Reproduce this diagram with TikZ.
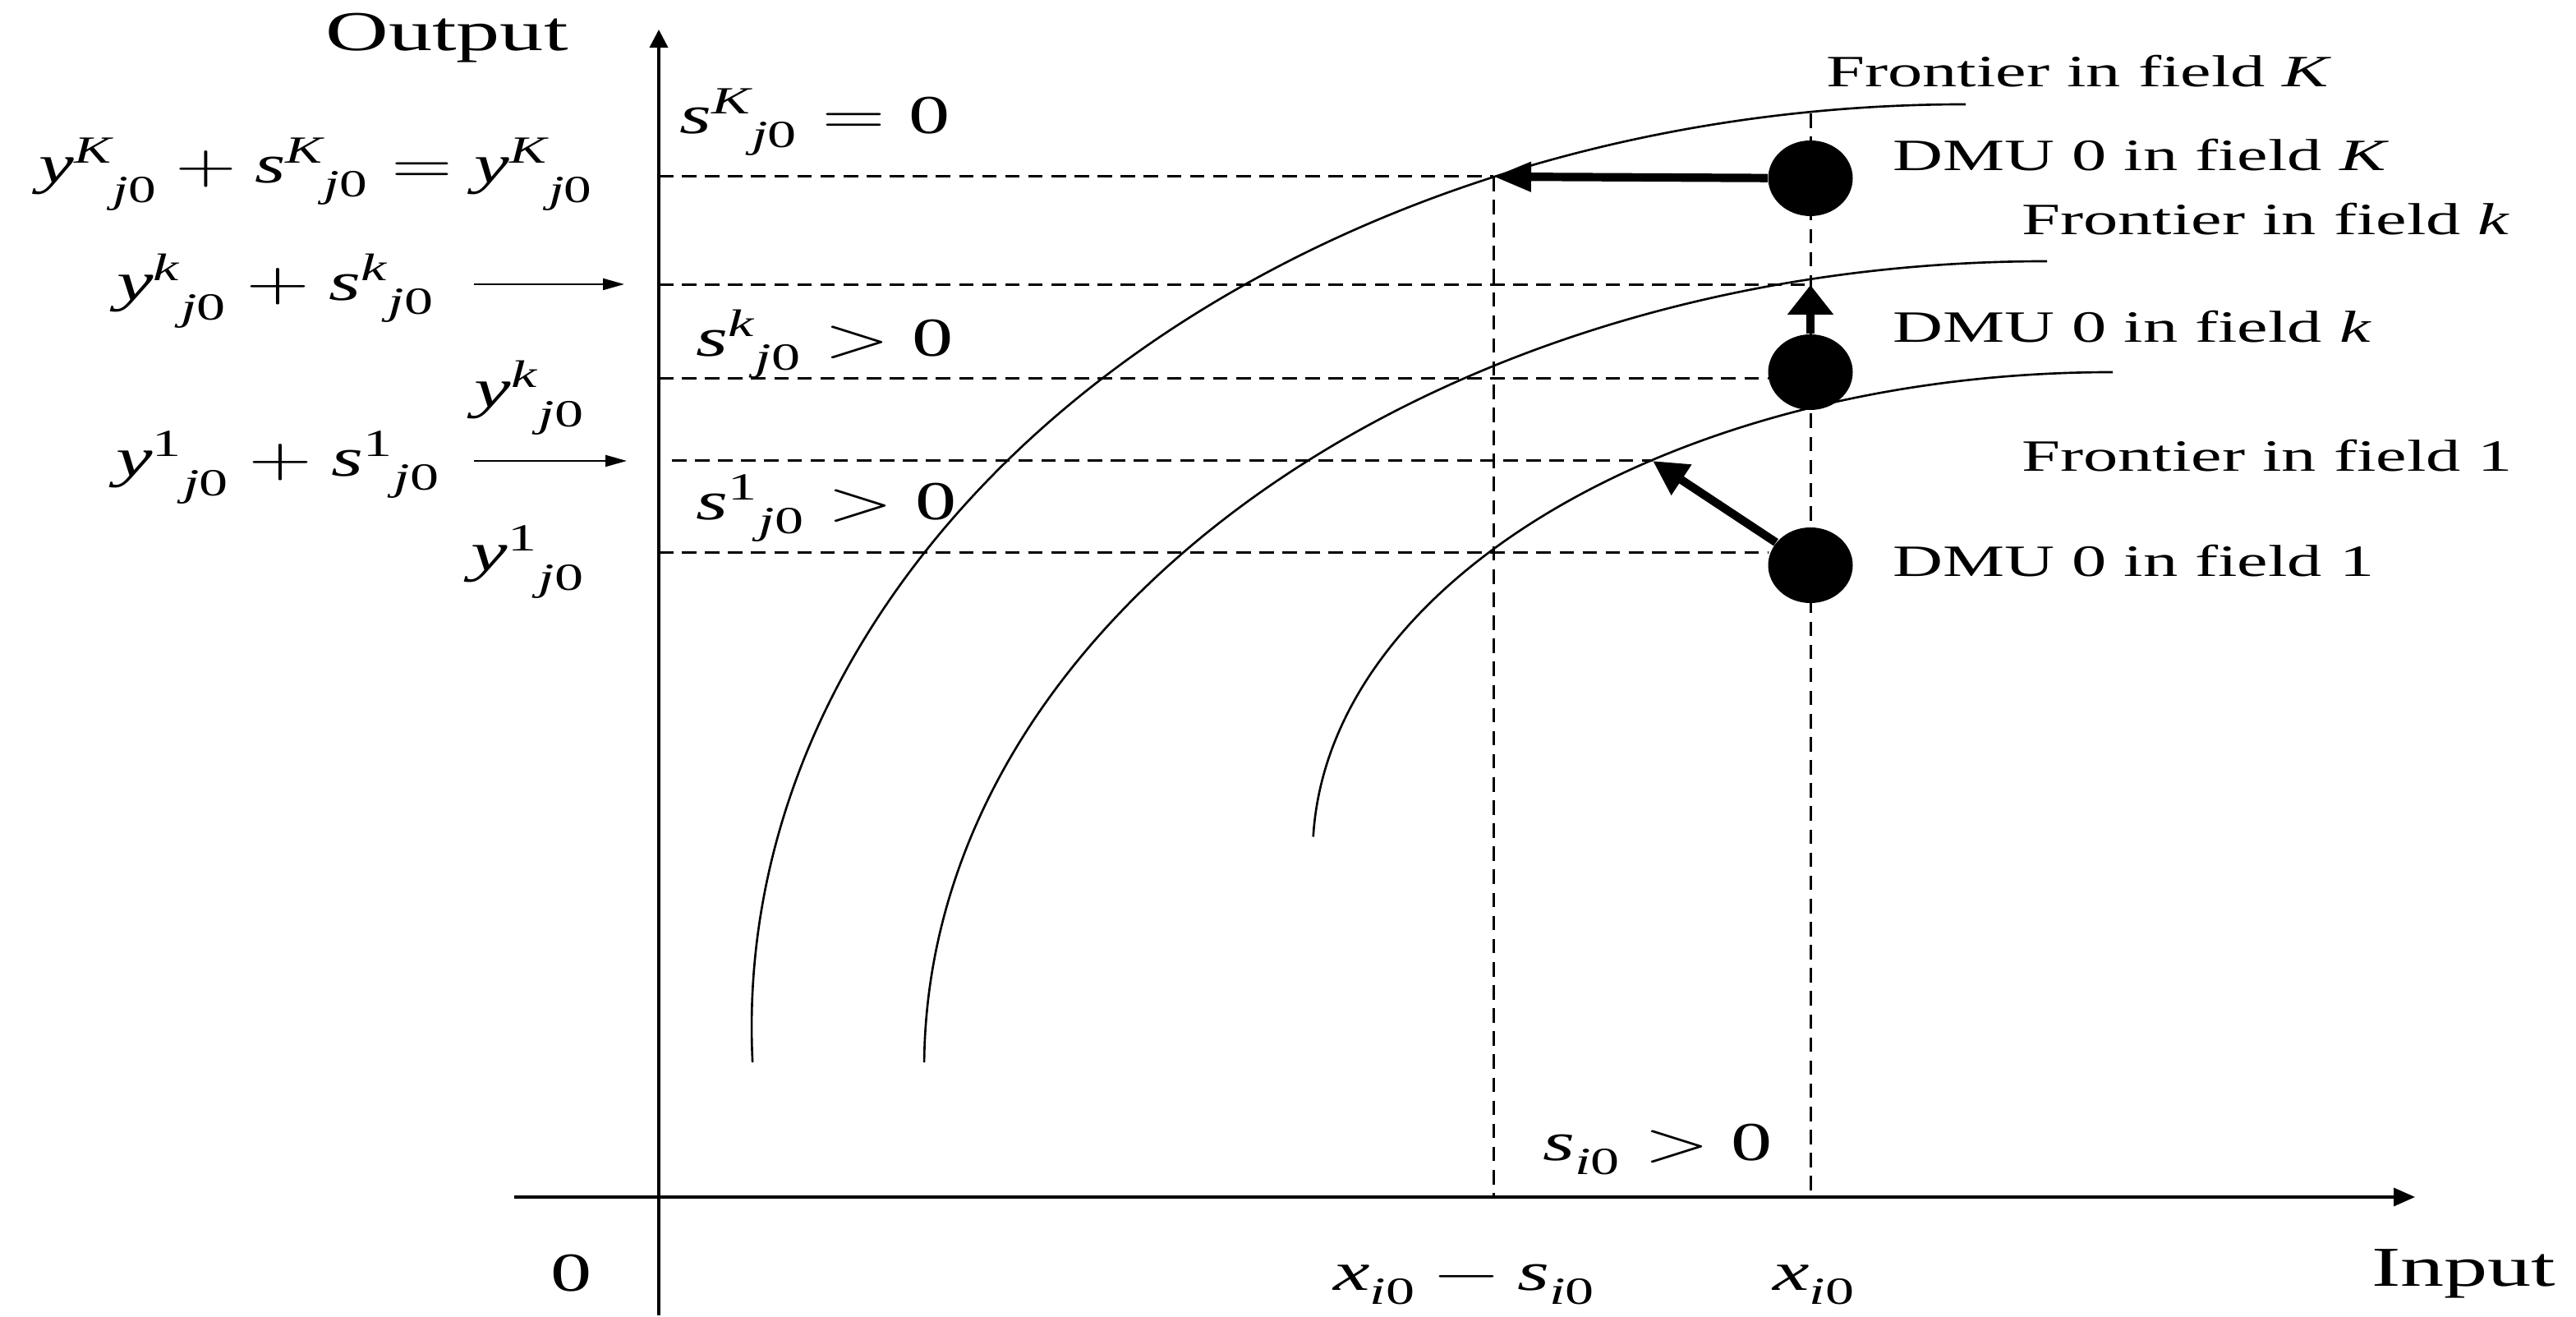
\documentclass[tikz,border=0pt]{standalone}
\usepackage{unicode-math}
\setmainfont{Liberation Serif}
\setmathfont{Latin Modern Math}
\setmathfont[range=it]{Liberation Serif Italic}
\setmathfont[range=up/num]{Liberation Serif}
\usetikzlibrary{arrows.meta,shapes.geometric}

\begin{document}
\begin{tikzpicture}[
    txt/.style={xscale=1.55, inner sep=0pt, font=\fontsize{15.5}{18}\selectfont},
    big/.style={xscale=1.55, inner sep=0pt, font=\fontsize{19.5}{22}\selectfont},
    mth/.style={xscale=1.5, inner sep=0pt, font=\fontsize{19}{22}\selectfont},
    guide/.style={dash pattern=on 5pt off 3pt, line width=0.85pt},
    frontier/.style={line width=0.75pt},
    dmu/.style={ellipse, fill=black, inner sep=0pt, minimum width=1.03cm, minimum height=0.92cm},
    shiftarrow/.style={line width=2.9pt}
  ]
  \useasboundingbox (0,0) rectangle (31.36,16.03);

  % Axes
  \coordinate (xstart) at (6.26,1.46);
  \coordinate (xend) at (29.40,1.46);
  \coordinate (ystart) at (8.02,0.02);
  \coordinate (yend) at (8.02,15.67);
  \draw[line width=1pt,-{Triangle[length=2.6mm,width=2.2mm]}] (xstart) -- (xend);
  \draw[line width=1pt,-{Triangle[length=2.2mm,width=2.2mm]}] (ystart) -- (yend);
  \node[big,anchor=base] (output) at (5.44,15.41) {Output};
  \node[big,anchor=base west] (input) at (28.86,0.37) {Input};
  \node[mth,anchor=base west] (zero) at (6.69,0.31) {0};

  % Frontier points
  \coordinate (fK) at (18.18,13.88);
  \coordinate (fk) at (22.04,12.56);
  \coordinate (f1) at (20.12,10.42);

  % Dashed guides
  \draw[guide] (8.02,13.88) -- (fK);
  \draw[guide] (8.02,12.56) -- (fk);
  \draw[guide] (8.02,11.42) -- (21.52,11.42);
  \draw[guide] (8.18,10.42) -- (f1);
  \draw[guide] (8.02,9.30) -- (21.52,9.30);
  \draw[guide] (fK) -- (18.18,1.46);
  \draw[guide] (22.04,14.65) -- (22.04,1.46);

  % Frontiers
  \draw[frontier] (23.93,3.53) ++(182.2:14.78 and 11.23)
    arc[start angle=182.2, end angle=90, x radius=14.78, y radius=11.23];
  \draw[frontier] (24.92,3.03) ++(179.6:13.67 and 9.82)
    arc[start angle=179.6, end angle=90, x radius=13.67, y radius=9.82];
  \draw[frontier] (25.72,5.63) ++(177.9:9.74 and 5.87)
    arc[start angle=177.9, end angle=90, x radius=9.74, y radius=5.87];
  \node[txt,anchor=base west] (frK) at (22.22,14.97) {Frontier in field $K$};
  \node[txt,anchor=base west] (frk) at (24.60,13.17) {Frontier in field $k$};
  \node[txt,anchor=base west] (fr1) at (24.60,10.29) {Frontier in field 1};

  % DMUs and their moves
  \node[dmu] (dmuK) at (22.04,13.86) {};
  \node[dmu] (dmuk) at (22.04,11.50) {};
  \node[dmu] (dmu1) at (22.04,9.15) {};
  \draw[shiftarrow,-{Triangle[length=4.6mm,width=3.4mm]}] (dmuK) -- (fK);
  \draw[shiftarrow,-{Triangle[length=3.6mm,width=5.4mm]}] (dmuk) -- (fk);
  \draw[shiftarrow,-{Triangle[length=4.2mm,width=4.2mm]}] (dmu1) -- (f1);
  \node[txt,anchor=base west] (lK) at (23.03,13.95) {DMU 0 in field $K$};
  \node[txt,anchor=base west] (lk) at (23.03,11.86) {DMU 0 in field $k$};
  \node[txt,anchor=base west] (l1) at (23.03,9.01) {DMU 0 in field 1};

  % Output levels
  \node[mth,xscale=0.96,anchor=base east] (yK) at (7.24,13.80) {${y^{K}}_{j0}+{s^{K}}_{j0}={y^{K}}_{j0}$};
  \node[mth,anchor=base east] (yks) at (5.31,12.37) {${y^{k}}_{j0}+{s^{k}}_{j0}$};
  \node[mth,anchor=base east] (yk) at (7.14,11.07) {${y^{k}}_{j0}$};
  \node[mth,anchor=base east] (y1s) at (5.38,10.23) {${y^{1}}_{j0}+{s^{1}}_{j0}$};
  \node[mth,anchor=base east] (y1) at (7.14,9.08) {${y^{1}}_{j0}$};
  \coordinate (yks-a) at (5.77,12.57);
  \coordinate (yks-b) at (7.60,12.57);
  \coordinate (y1s-a) at (5.77,10.42);
  \coordinate (y1s-b) at (7.63,10.42);
  \draw[line width=0.6pt,-{Triangle[length=2.6mm,width=1.4mm]}] (yks-a) -- (yks-b);
  \draw[line width=0.6pt,-{Triangle[length=2.6mm,width=1.4mm]}] (y1s-a) -- (y1s-b);

  % Slacks
  \node[mth,anchor=base west] (sK) at (8.26,14.40) {${s^{K}}_{j0}=0$};
  \node[mth,anchor=base west] (sk) at (8.46,11.69) {${s^{k}}_{j0}>0$};
  \node[mth,anchor=base west] (s1) at (8.46,9.70) {${s^{1}}_{j0}>0$};
  \node[mth,anchor=base west] (si) at (18.77,1.90) {$s_{i0}>0$};
  \node[mth,anchor=base west] (xs) at (16.22,0.32) {$x_{i0}-s_{i0}$};
  \node[mth,anchor=base west] (xi) at (21.57,0.32) {$x_{i0}$};
\end{tikzpicture}
\end{document}
